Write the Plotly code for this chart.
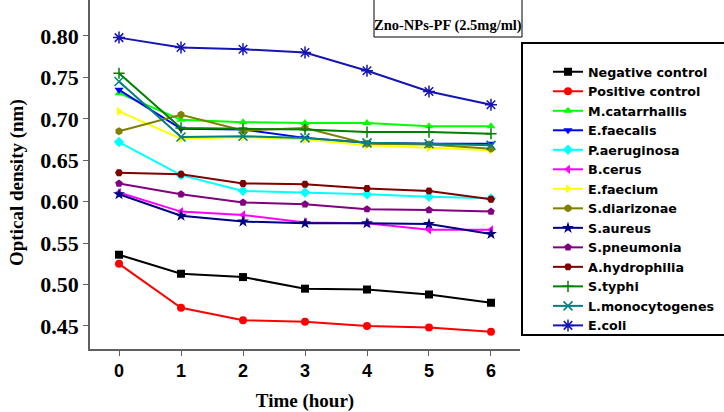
import plotly.graph_objects as go

time_h = [0, 1, 2, 3, 4, 5, 6]

negative_control = [0.536, 0.513, 0.509, 0.495, 0.494, 0.488, 0.478]
positive_control = [0.525, 0.472, 0.457, 0.455, 0.450, 0.448, 0.443]
m_catarrhallis   = [0.731, 0.699, 0.696, 0.695, 0.695, 0.691, 0.691]
e_faecalis       = [0.735, 0.688, 0.687, 0.677, 0.671, 0.670, 0.670]
p_aeruginosa     = [0.672, 0.632, 0.613, 0.611, 0.609, 0.606, 0.604]
b_cerus          = [0.611, 0.588, 0.584, 0.575, 0.574, 0.566, 0.566]
e_faecium        = [0.709, 0.676, 0.678, 0.675, 0.668, 0.665, 0.662]
s_diarizonae     = [0.685, 0.705, 0.686, 0.689, 0.670, 0.669, 0.664]
s_aureus         = [0.609, 0.583, 0.576, 0.574, 0.574, 0.573, 0.561]
s_pneumonia      = [0.622, 0.609, 0.599, 0.597, 0.591, 0.590, 0.588]
a_hydrophilia    = [0.635, 0.633, 0.622, 0.621, 0.616, 0.613, 0.603]
s_typhi          = [0.755, 0.689, 0.688, 0.687, 0.684, 0.684, 0.682]
l_monocytogenes  = [0.745, 0.678, 0.679, 0.677, 0.671, 0.670, 0.668]
e_coli           = [0.798, 0.786, 0.784, 0.780, 0.758, 0.733, 0.717]

series = [
    ("Negative control", negative_control, "#000000", "square", 8),
    ("Positive control", positive_control, "#FF0000", "circle", 8),
    ("M.catarrhallis", m_catarrhallis, "#00FF00", "triangle-up", 8),
    ("E.faecalis", e_faecalis, "#0000FF", "triangle-down", 8),
    ("P.aeruginosa", p_aeruginosa, "#00FFFF", "diamond", 8),
    ("B.cerus", b_cerus, "#FF00FF", "triangle-left", 8),
    ("E.faecium", e_faecium, "#FFFF00", "triangle-right", 8),
    ("S.diarizonae", s_diarizonae, "#808000", "hexagon", 8),
    ("S.aureus", s_aureus, "#000080", "star", 9),
    ("S.pneumonia", s_pneumonia, "#800080", "pentagon", 8),
    ("A.hydrophilia", a_hydrophilia, "#800000", "hexagon2", 8),
    ("S.typhi", s_typhi, "#008000", "cross-thin", 8),
    ("L.monocytogenes", l_monocytogenes, "#008080", "x-thin", 9),
    ("E.coli", e_coli, "#1515B5", "asterisk", 10),
]

fig = go.Figure()
for name, vals, color, sym, size in series:
    thin = sym in ("cross-thin", "x-thin", "asterisk")
    fig.add_trace(go.Scatter(
        x=time_h, y=vals, name=name, mode="lines+markers",
        line=dict(color=color, width=2),
        marker=dict(symbol=sym, size=size, color=color,
                    line=dict(color=color, width=1.5 if thin else 0)),
    ))

W, H = 724, 412
L, R, T, B = 90, 204, 0, 63
pw, ph = W - L - R, H - T - B

def px_x(x):
    return (x - L) / pw

def px_y(y):
    return (H - B - y) / ph

fig.update_layout(
    width=W, height=H,
    margin=dict(l=L, r=R, t=T, b=B, autoexpand=False),
    plot_bgcolor="white", paper_bgcolor="white",
    showlegend=True,
    legend=dict(
        x=px_x(548), y=px_y(57), xanchor="left", yanchor="top",
        font=dict(family="DejaVu Sans", size=12.7, color="black", weight="bold"),
        bgcolor="rgba(0,0,0,0)", borderwidth=0,
    ),
    xaxis=dict(
        range=[-0.468, 6.468], tickmode="array", tickvals=time_h,
        showgrid=False, zeroline=False, showline=True, linecolor="#606060", linewidth=1.5,
        ticks="outside", ticklen=5, tickcolor="#606060",
        tickfont=dict(family="Liberation Sans", size=18, color="black", weight="bold"),
        title=dict(text="Time (hour)", standoff=14,
                   font=dict(family="Liberation Serif", size=19, color="black", weight="bold")),
    ),
    yaxis=dict(
        range=[0.4222, 0.8434], tickmode="array",
        tickvals=[0.45, 0.50, 0.55, 0.60, 0.65, 0.70, 0.75, 0.80], tickformat=".2f",
        showgrid=False, zeroline=False, showline=True, linecolor="#606060", linewidth=1.5,
        ticks="outside", ticklen=5, tickcolor="#606060",
        tickfont=dict(family="Liberation Serif", size=22, color="black", weight="bold"),
    ),
    shapes=[
        dict(type="rect", xref="paper", yref="paper",
             x0=px_x(522), x1=px_x(745), y0=px_y(335), y1=px_y(43),
             line=dict(color="black", width=2), fillcolor="rgba(0,0,0,0)"),
        dict(type="rect", xref="paper", yref="paper",
             x0=px_x(374), x1=px_x(522), y0=px_y(37), y1=px_y(-5),
             line=dict(color="black", width=1), fillcolor="rgba(0,0,0,0)"),
    ],
    annotations=[
        dict(text="Zno-NPs-PF (2.5mg/ml)", xref="paper", yref="paper",
             x=px_x(448), y=px_y(26), xanchor="center", yanchor="middle", showarrow=False,
             font=dict(family="Liberation Serif", size=14.5, color="black", weight="bold")),
        dict(text="Optical density (nm)", xref="paper", yref="paper", textangle=-90,
             x=px_x(17), y=px_y(183), xanchor="center", yanchor="middle", showarrow=False,
             font=dict(family="Liberation Serif", size=19, color="black", weight="bold")),
    ],
)

fig.write_html("out.html")
